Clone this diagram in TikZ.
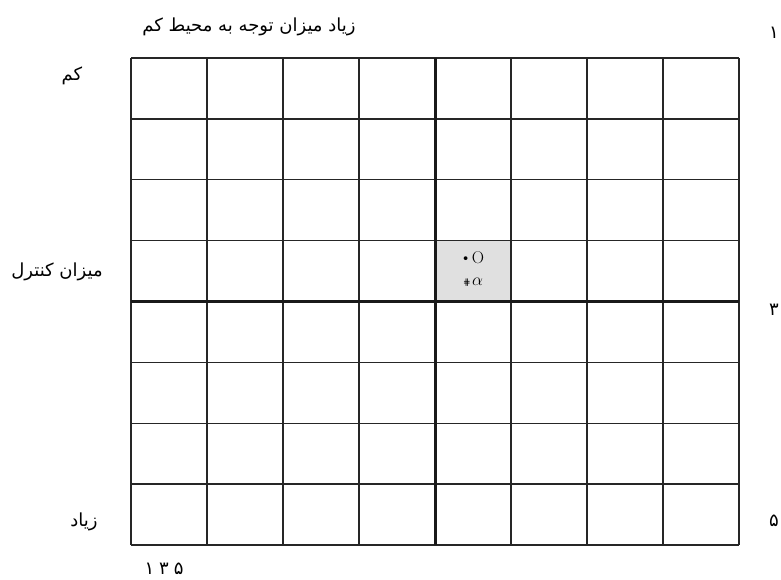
\documentclass[tikz,border=0pt]{standalone}
\usepackage{fontspec}
\newfontfamily\arabicfont[Script=Arabic]{DejaVu Sans}
\newfontfamily\symfont{DejaVu Sans}
\TeXXeTstate=1
\begin{document}
\begin{tikzpicture}[x=1pt,y=-1pt,
  lbl/.style={inner sep=0pt,font=\arabicfont\fontsize{18}{21}\selectfont},
  thinline/.style={line width=1.3pt,black!85},
  thickfill/.style={fill=black!90}]
\useasboundingbox (0,0) rectangle (781,579);
% grey cell
\fill[black!12] (435,240.625) rectangle (511,301.5);
% grid
\foreach \i in {0,...,8} {
  \draw[thinline] (131+\i*76,58) -- (131+\i*76,545);
  \draw[thinline] (131,58+\i*60.875) -- (739,58+\i*60.875);
}
\fill[thickfill] (433.5,58) rectangle (436.5,545);
\fill[thickfill] (131,300) rectangle (739,303);
% cell contents
\node[inner sep=0pt] (o) at (473,258) {\symfont\fontsize{13}{14}\selectfont•\,\rmfamily\fontsize{17}{20}\selectfont O};
\node[inner sep=0pt] (a) at (473,282) {\symfont\fontsize{9}{10}\selectfont⋕\,\fontsize{17}{20}\selectfont$\alpha$};
% labels
\node[lbl] (top) at (249,27) {\beginR زیاد میزان توجه به محیط کم\endR};
\node[lbl] (low) at (72,76) {\beginR کم\endR};
\node[lbl] (ctrl) at (57,272) {\beginR میزان کنترل\endR};
\node[lbl] (high) at (84,522) {\beginR زیاد\endR};
\node[lbl] (r1) at (774,33) {۱};
\node[lbl] (r3) at (774,310) {۳};
\node[lbl] (r5) at (774,521) {۵};
\node[lbl] (bot) at (164,569) {\beginR ۵\hspace{5pt}۳\hspace{5pt}۱\endR};
\end{tikzpicture}
\end{document}
